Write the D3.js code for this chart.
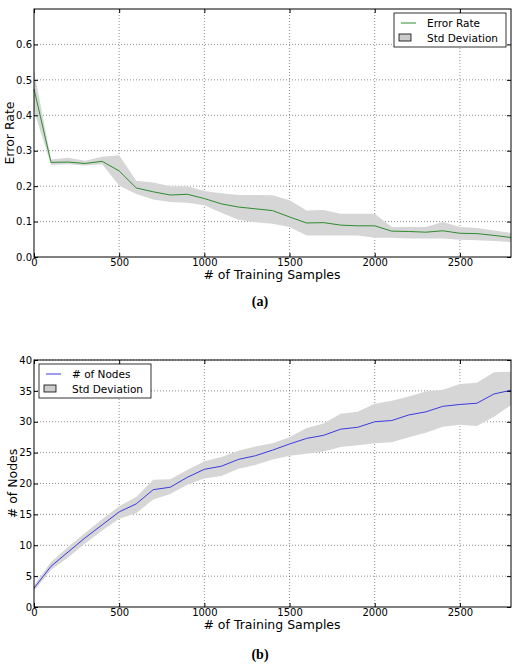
<!DOCTYPE html>
<html>
<head>
<meta charset="utf-8">
<script src="https://cdn.jsdelivr.net/npm/d3@7"></script>
<style>
  body { margin: 0; background: #fff; }
  svg text { font-family: "DejaVu Sans", sans-serif; }
</style>
</head>
<body>
<svg id="chart" width="520" height="667"></svg>
<script>
// training sample counts, shared by both panels
const samples = d3.range(0, 2801, 100);

// (a) error rate
const errorRate = [0.474, 0.267, 0.268, 0.264, 0.27, 0.243, 0.195, 0.184, 0.175, 0.177,
  0.165, 0.15, 0.141, 0.136, 0.131, 0.113, 0.096, 0.097, 0.09, 0.088,
  0.088, 0.073, 0.072, 0.07, 0.074, 0.067, 0.066, 0.061, 0.055];
const errorUpper = [0.526, 0.275, 0.28, 0.272, 0.283, 0.287, 0.215, 0.21, 0.2, 0.2,
  0.186, 0.18, 0.175, 0.175, 0.174, 0.16, 0.131, 0.133, 0.122, 0.122,
  0.122, 0.085, 0.085, 0.085, 0.099, 0.085, 0.082, 0.075, 0.068];
const errorLower = [0.413, 0.26, 0.262, 0.258, 0.262, 0.202, 0.178, 0.162, 0.155, 0.153,
  0.146, 0.125, 0.105, 0.098, 0.094, 0.085, 0.061, 0.061, 0.061, 0.061,
  0.054, 0.054, 0.052, 0.052, 0.052, 0.049, 0.047, 0.045, 0.042];

// (b) number of nodes
const nodes = [3.05, 6.6, 8.9, 11.2, 13.3, 15.4, 16.7, 19.0, 19.4, 21.0,
  22.3, 22.8, 23.9, 24.5, 25.4, 26.4, 27.3, 27.8, 28.8, 29.1,
  30.0, 30.2, 31.1, 31.6, 32.5, 32.8, 33.0, 34.5, 35.1];
const nodesUpper = [3.5, 7.3, 9.7, 12.0, 14.2, 16.3, 17.8, 20.6, 20.7, 22.2,
  23.6, 24.3, 25.3, 26.0, 26.5, 27.5, 29.0, 29.7, 31.3, 31.6,
  32.9, 33.4, 34.1, 34.9, 35.2, 36.1, 36.3, 38.0, 38.1];
const nodesLower = [2.6, 6.0, 8.0, 10.3, 12.4, 14.3, 15.2, 17.4, 18.3, 19.8,
  20.8, 21.2, 22.4, 23.0, 23.9, 24.5, 24.8, 25.2, 25.9, 26.2,
  26.5, 26.7, 27.5, 28.2, 29.2, 29.5, 29.3, 30.8, 32.7];

const xTicks = [0, 500, 1000, 1500, 2000, 2500];
const errorTicks = [0.0, 0.1, 0.2, 0.3, 0.4, 0.5, 0.6];
const nodeTicks = [0, 5, 10, 15, 20, 25, 30, 35, 40];

const svg = d3.select("#chart");

function panel(opts) {
  const x = d3.scaleLinear().domain([0, 2800]).range([34, 511]);
  const y = d3.scaleLinear().domain(opts.yDomain).range([opts.bottom, opts.top]);
  const g = svg.append("g");

  // grid
  g.append("g").selectAll("line").data(xTicks.slice(1))
    .enter().append("line")
      .attr("x1", d => x(d)).attr("x2", d => x(d))
      .attr("y1", opts.top).attr("y2", opts.bottom)
      .attr("stroke", "#444").attr("stroke-width", 0.6).attr("stroke-dasharray", "1,2");
  g.append("g").selectAll("line").data(opts.yTicks.slice(1))
    .enter().append("line")
      .attr("x1", 34).attr("x2", 511)
      .attr("y1", d => y(d)).attr("y2", d => y(d))
      .attr("stroke", "#444").attr("stroke-width", 0.6).attr("stroke-dasharray", "1,2");

  // std band
  const area = d3.area()
    .x((d, i) => x(samples[i]))
    .y0((d, i) => y(opts.lower[i]))
    .y1((d, i) => y(opts.upper[i]));
  g.append("path").datum(opts.values)
    .attr("d", area).attr("fill", "#d6d6d6");

  const line = d3.line().x((d, i) => x(samples[i])).y(d => y(d));
  g.append("path").datum(opts.values)
    .attr("d", line).attr("fill", "none")
    .attr("stroke", opts.color).attr("stroke-width", 1);

  // axes with inward ticks
  const bottomAx = g.append("g").attr("transform", `translate(0,${opts.bottom})`)
    .call(d3.axisBottom(x).tickValues(xTicks).tickFormat(d3.format("d"))
      .tickSizeInner(-4).tickSizeOuter(0).tickPadding(2));
  const leftAx = g.append("g").attr("transform", "translate(34,0)")
    .call(d3.axisLeft(y).tickValues(opts.yTicks).tickFormat(opts.fmt)
      .tickSizeInner(-4).tickSizeOuter(0).tickPadding(2));
  g.append("g").attr("transform", `translate(0,${opts.top})`)
    .call(d3.axisTop(x).tickValues(xTicks).tickSizeInner(-4).tickSizeOuter(0).tickFormat(""));
  g.append("g").attr("transform", "translate(511,0)")
    .call(d3.axisRight(y).tickValues(opts.yTicks).tickSizeInner(-4).tickSizeOuter(0).tickFormat(""));
  g.selectAll(".domain").remove();
  g.selectAll(".tick line").attr("stroke", "#000");
  bottomAx.selectAll("text").attr("font-size", 10).attr("fill", "#000");
  leftAx.selectAll("text").attr("font-size", 10).attr("fill", "#000");

  g.append("rect").attr("x", 34).attr("y", opts.top)
    .attr("width", 477).attr("height", opts.bottom - opts.top)
    .attr("fill", "none").attr("stroke", "#000").attr("stroke-width", 1);

  g.append("text").attr("x", 272).attr("y", opts.bottom + 22)
    .attr("text-anchor", "middle").attr("font-size", 12.5).text("# of Training Samples");
  g.append("text")
    .attr("transform", `translate(${opts.ylabelX},${(opts.top + opts.bottom) / 2}) rotate(-90)`)
    .attr("text-anchor", "middle").attr("font-size", 12.5).text(opts.ylabel);

  g.append("text").attr("x", 260).attr("y", opts.bottom + opts.captionDy)
    .attr("text-anchor", "middle")
    .style("font-family", "'Liberation Serif', 'DejaVu Serif', serif")
    .attr("font-weight", "bold").attr("font-size", 14).text(opts.caption);

  // legend
  const lg = g.append("g").attr("transform", `translate(${opts.legend[0]},${opts.legend[1]})`);
  lg.append("rect").attr("width", 112).attr("height", 34)
    .attr("fill", "#fff").attr("stroke", "#000").attr("stroke-width", 0.8);
  lg.append("line").attr("x1", 7).attr("x2", 22).attr("y1", 10).attr("y2", 10)
    .attr("stroke", opts.color).attr("stroke-width", 1);
  lg.append("text").attr("x", 33).attr("y", 14).attr("font-size", 10.5).text(opts.name);
  lg.append("rect").attr("x", 5).attr("y", 21).attr("width", 12).attr("height", 7)
    .attr("fill", "#cccccc").attr("stroke", "#000").attr("stroke-width", 0.8);
  lg.append("text").attr("x", 33).attr("y", 29).attr("font-size", 10.5).text("Std Deviation");
}

panel({
  top: 9, bottom: 257, yDomain: [0, 0.7], yTicks: errorTicks, fmt: d3.format(".1f"),
  values: errorRate, upper: errorUpper, lower: errorLower, color: "#2e8b2e",
  ylabel: "Error Rate", ylabelX: 14, caption: "(a)", captionDy: 49,
  name: "Error Rate", legend: [394, 13]
});
panel({
  top: 360, bottom: 607, yDomain: [0, 40], yTicks: nodeTicks, fmt: d3.format("d"),
  values: nodes, upper: nodesUpper, lower: nodesLower, color: "#3a3ae0",
  ylabel: "# of Nodes", ylabelX: 17, caption: "(b)", captionDy: 52,
  name: "# of Nodes", legend: [39, 364]
});
</script>
</body>
</html>
